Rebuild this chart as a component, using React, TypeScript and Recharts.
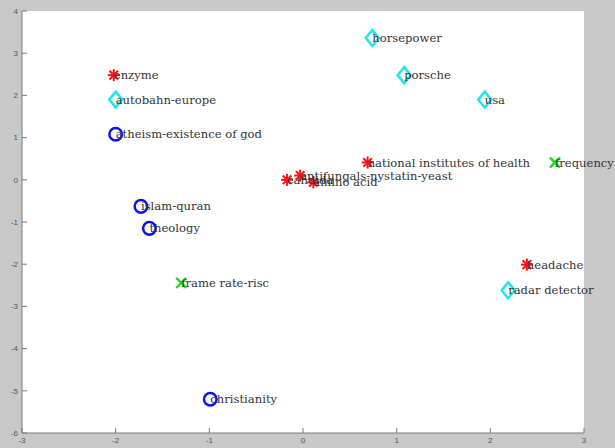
import { ScatterChart, Scatter, XAxis, YAxis, CartesianGrid } from "recharts"

// points, grouped by marker
const redX = [-2.02, -0.17, -0.03, 0.11, 0.69, 2.39]
const redY = [2.48, 0.0, 0.1, -0.06, 0.41, -2.01]
const redLabels = ["enzyme", "candida", "antifungals-nystatin-yeast", "amino acid", "national institutes of health", "headache"]

const cyanX = [-2.0, 0.74, 1.08, 1.94, 2.19]
const cyanY = [1.9, 3.36, 2.48, 1.9, -2.62]
const cyanLabels = ["autobahn-europe", "horsepower", "porsche", "usa", "radar detector"]

const blueX = [-2.0, -1.73, -1.64, -0.99]
const blueY = [1.08, -0.63, -1.15, -5.2]
const blueLabels = ["atheism-existence of god", "islam-quran", "theology", "christianity"]

const greenX = [-1.3, 2.69]
const greenY = [-2.44, 0.41]
const greenLabels = ["frame rate-risc", "frequency"]

const xTicks = [-3, -2, -1, 0, 1, 2, 3]
const yTicks = [-6, -5, -4, -3, -2, -1, 0, 1, 2, 3, 4]

const toRows = (xs: number[], ys: number[], labels: string[]) =>
  xs.map((x, i) => ({ x, y: ys[i], label: labels[i] }))

const red = toRows(redX, redY, redLabels)
const cyan = toRows(cyanX, cyanY, cyanLabels)
const blue = toRows(blueX, blueY, blueLabels)
const green = toRows(greenX, greenY, greenLabels)
const all = [...red, ...cyan, ...blue, ...green]

const AXIS = "#7a7a7a"
const TICK_TEXT = "#555"

function Asterisk({ cx, cy }: any) {
  const r = 6
  const d = r * 0.72
  return (
    <g stroke="#ff1010" strokeWidth={2}>
      <line x1={cx - r} y1={cy} x2={cx + r} y2={cy} />
      <line x1={cx} y1={cy - r} x2={cx} y2={cy + r} />
      <line x1={cx - d} y1={cy - d} x2={cx + d} y2={cy + d} />
      <line x1={cx - d} y1={cy + d} x2={cx + d} y2={cy - d} />
    </g>
  )
}

function Diamond({ cx, cy }: any) {
  const w = 6.5
  const h = 8
  return (
    <polygon
      points={`${cx},${cy - h} ${cx + w},${cy} ${cx},${cy + h} ${cx - w},${cy}`}
      fill="none"
      stroke="#1ee6ef"
      strokeWidth={2.5}
    />
  )
}

function Ring({ cx, cy }: any) {
  return <circle cx={cx} cy={cy} r={6.3} fill="none" stroke="#1010ee" strokeWidth={2.5} />
}

function Cross({ cx, cy }: any) {
  const r = 5
  return (
    <g stroke="#22dd22" strokeWidth={2.5}>
      <line x1={cx - r} y1={cy - r} x2={cx + r} y2={cy + r} />
      <line x1={cx - r} y1={cy + r} x2={cx + r} y2={cy - r} />
    </g>
  )
}

function PointLabel({ cx, cy, payload }: any) {
  return (
    <text x={cx} y={cy} dy="0.35em" fontFamily="'DejaVu Serif', serif" fontSize={11.6} fill="#333">
      {payload.label}
    </text>
  )
}

function XTick({ x, y, payload }: any) {
  return (
    <g>
      <line x1={x} y1={y} x2={x} y2={y - 5} stroke={AXIS} />
      <text x={x} y={y + 10} textAnchor="middle" fontFamily="'Liberation Sans', Arial, sans-serif" fontSize={8} fill={TICK_TEXT}>
        {payload.value}
      </text>
    </g>
  )
}

function YTick({ x, y, payload }: any) {
  return (
    <g>
      <line x1={x} y1={y} x2={x + 5} y2={y} stroke={AXIS} />
      <text x={x - 4} y={y} dy="0.35em" textAnchor="end" fontFamily="'Liberation Sans', Arial, sans-serif" fontSize={8} fill={TICK_TEXT}>
        {payload.value}
      </text>
    </g>
  )
}

export default function App() {
  return (
    <div style={{ width: 615, height: 448, background: "#c8c8c8" }}>
      <style>{`body { margin: 0; }`}</style>
      <ScatterChart width={615} height={448} margin={{ top: 11, right: 31, bottom: 0, left: 0 }}>
        <CartesianGrid horizontal={false} vertical={false} fill="#fff" />
        <XAxis
          type="number"
          dataKey="x"
          domain={[-3, 3]}
          ticks={xTicks}
          height={15}
          tickSize={0}
          tickMargin={0}
          tick={<XTick />}
          stroke={AXIS}
        />
        <YAxis
          type="number"
          dataKey="y"
          domain={[-6, 4]}
          ticks={yTicks}
          width={22}
          tickSize={0}
          tickMargin={0}
          tick={<YTick />}
          stroke={AXIS}
        />
        <Scatter data={red} shape={<Asterisk />} isAnimationActive={false} />
        <Scatter data={cyan} shape={<Diamond />} isAnimationActive={false} />
        <Scatter data={blue} shape={<Ring />} isAnimationActive={false} />
        <Scatter data={green} shape={<Cross />} isAnimationActive={false} />
        <Scatter data={all} shape={<PointLabel />} isAnimationActive={false} />
      </ScatterChart>
    </div>
  )
}
